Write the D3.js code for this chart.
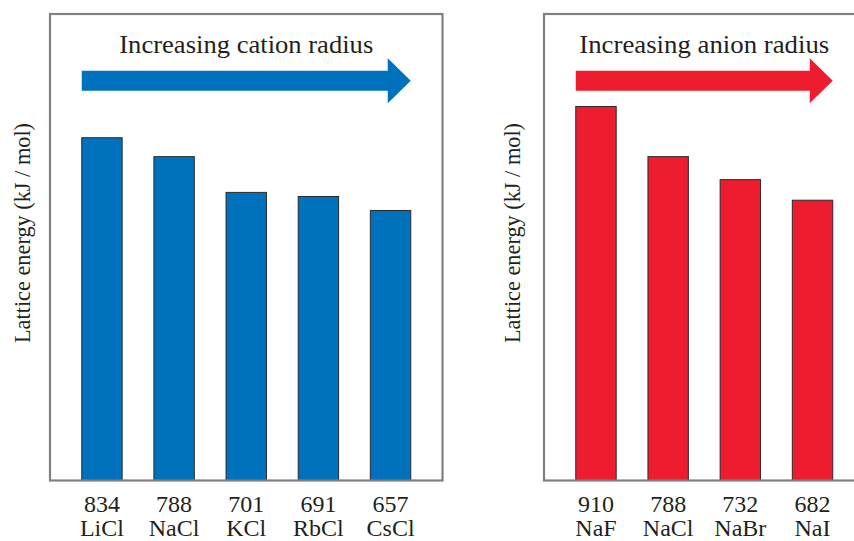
<!DOCTYPE html>
<html><head><meta charset="utf-8">
<script src="https://cdn.jsdelivr.net/npm/d3@7"></script>
<style>body{margin:0;background:#fff}svg{display:block}</style>
</head><body>
<svg id="chart" width="854" height="541"></svg>
<script>
const cationCategories = ["LiCl","NaCl","KCl","RbCl","CsCl"];
const cationValues = [834, 788, 701, 691, 657];
const anionCategories = ["NaF","NaCl","NaBr","NaI"];
const anionValues = [910, 788, 732, 682];
const panelTitles = ["Increasing cation radius", "Increasing anion radius"];
const yLabel = "Lattice energy (kJ / mol)";

(function(){
const svg = d3.select("#chart");
const FONT = "'Liberation Serif','Times New Roman',serif";
const TEXT = "#231f20";
const FRAME = "#808080";
const frameTop = 14, frameBottom = 480.5;
const y = d3.scaleLinear().domain([0, 1000]).range([frameBottom, frameBottom - 411]);

const panels = [
  {cats: cationCategories, vals: cationValues, color: "#0071bc", x0: 50, x1: 442.5, title: panelTitles[0], labelX: 29.5, tl: 254},
  {cats: anionCategories, vals: anionValues, color: "#ed1c2e", x0: 544, x1: 864.5, title: panelTitles[1], labelX: 519.5, tl: 250}
];

panels.forEach(p => {
  const g = svg.append("g");
  const x = d3.scaleBand().domain(p.cats).range([p.x0, p.x1]).paddingInner(0.44).paddingOuter(0.44);
  const data = p.cats.map((c,i)=>({c, v:p.vals[i]}));
  g.selectAll("rect.bar").data(data).join("rect")
    .attr("class","bar")
    .attr("x", d => x(d.c)).attr("width", x.bandwidth())
    .attr("y", d => y(d.v)).attr("height", d => y(0) - y(d.v))
    .attr("fill", p.color).attr("stroke", "#2b2b2b").attr("stroke-width", 1);
  g.append("rect").attr("x", p.x0).attr("y", frameTop).attr("width", p.x1 - p.x0).attr("height", frameBottom - frameTop)
    .attr("fill","none").attr("stroke", FRAME).attr("stroke-width", 2.2);
  const lab = g.selectAll("g.lab").data(data).join("g").attr("class","lab")
    .attr("transform", d => `translate(${x(d.c) + x.bandwidth()/2},0)`);
  lab.append("text").attr("y", 511.5).attr("text-anchor","middle").attr("font-family", FONT).attr("font-size", 24)
    .attr("fill", TEXT).text(d => d.v);
  lab.append("text").attr("y", 535.5).attr("text-anchor","middle").attr("font-family", FONT).attr("font-size", 24)
    .attr("fill", TEXT).text(d => d.c);
  const ax0 = x(p.cats[0]);
  const ax1 = x(p.cats[p.cats.length-1]) + x.bandwidth();
  const cy = 80.7, sh = 10, hh = 22.5, hl = 23;
  const path = d3.path();
  path.moveTo(ax0, cy - sh); path.lineTo(ax1 - hl, cy - sh); path.lineTo(ax1 - hl, cy - hh);
  path.lineTo(ax1, cy); path.lineTo(ax1 - hl, cy + hh); path.lineTo(ax1 - hl, cy + sh);
  path.lineTo(ax0, cy + sh); path.closePath();
  g.append("path").attr("d", path.toString()).attr("fill", p.color);
  g.append("text").attr("x", (ax0 + ax1)/2).attr("y", 53).attr("text-anchor","middle")
    .attr("font-family", FONT).attr("font-size", 26).attr("fill", TEXT)
    .attr("textLength", p.tl).attr("lengthAdjust","spacingAndGlyphs")
    .text(p.title);
  g.append("text").attr("transform", `translate(${p.labelX},233) rotate(-90)`).attr("text-anchor","middle")
    .attr("font-family", FONT).attr("font-size", 22.5).attr("fill", TEXT)
    .attr("textLength", 220).attr("lengthAdjust","spacingAndGlyphs")
    .text(yLabel);
});
})();
</script>
</body></html>
